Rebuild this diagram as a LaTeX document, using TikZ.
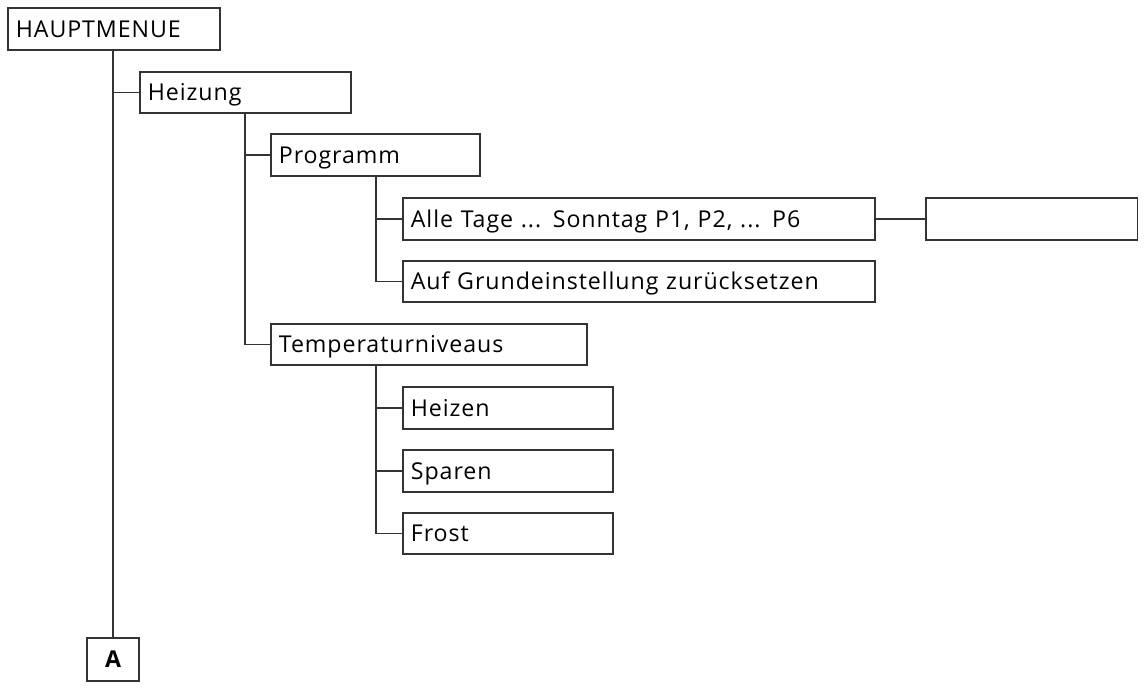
\documentclass[tikz,border=0pt]{standalone}
\usepackage{fontspec}
\setmainfont{Open Sans}[LetterSpace=4]

\begin{document}
\begin{tikzpicture}[
    x=0.02cm,y=-0.02cm,
    line width=1.1pt,draw=black!80,
    every node/.style={font=\fontsize{13.2}{15}\selectfont},
    menu/.style={draw,anchor=west,minimum height=0.83cm,inner xsep=4.5pt,
      text width=#1,align=left,text height=9.4pt,text depth=0pt}]
  \useasboundingbox (0,0) rectangle (1145,687);
  \node[menu=3.92cm] (haupt) at (7,29) {HAUPTMENUE};
  \node[menu=3.90cm] (heiz) at (139,92.5) {Heizung};
  \node[menu=3.87cm] (prog) at (270,155) {Programm};
  \node[menu=9.12cm] (alle) at (402,219) {Alle Tage ... Sonntag P1, P2, ... P6};
  \node[menu=3.92cm,line width=0.9pt] (leer) at (925,219) {};
  \node[menu=9.12cm] (grund) at (402,281.5) {Auf Grundeinstellung zurücksetzen};
  \node[menu=6.00cm] (temp) at (270,344.5) {Temperaturniveaus};
  \node[menu=3.88cm] (heizen) at (402,408) {Heizen};
  \node[menu=3.88cm] (sparen) at (402,471) {Sparen};
  \node[menu=3.88cm] (frost) at (402,533.5) {Frost};
  \node[draw,minimum width=1.04cm,minimum height=0.86cm,inner sep=0pt,
    font=\fontsize{13.2}{15}\selectfont\bfseries] (A) at (113,659.5) {A};
  \coordinate (tempfuss) at (temp.south -| prog.south);
  % verbindungen
  \draw (haupt.south -| A.north) -- (A.north);
  \draw (heiz.west) -- (heiz.west -| A.north);
  \draw (heiz.south) |- (temp.west);
  \draw (heiz.south |- prog.west) -- (prog.west);
  \draw (prog.south) |- (grund.west);
  \draw (prog.south |- alle.west) -- (alle.west);
  \draw[line width=0.9pt] (alle.east) -- (leer.west);
  \draw (tempfuss) |- (frost.west);
  \draw (tempfuss |- heizen.west) -- (heizen.west);
  \draw (tempfuss |- sparen.west) -- (sparen.west);
\end{tikzpicture}
\end{document}
